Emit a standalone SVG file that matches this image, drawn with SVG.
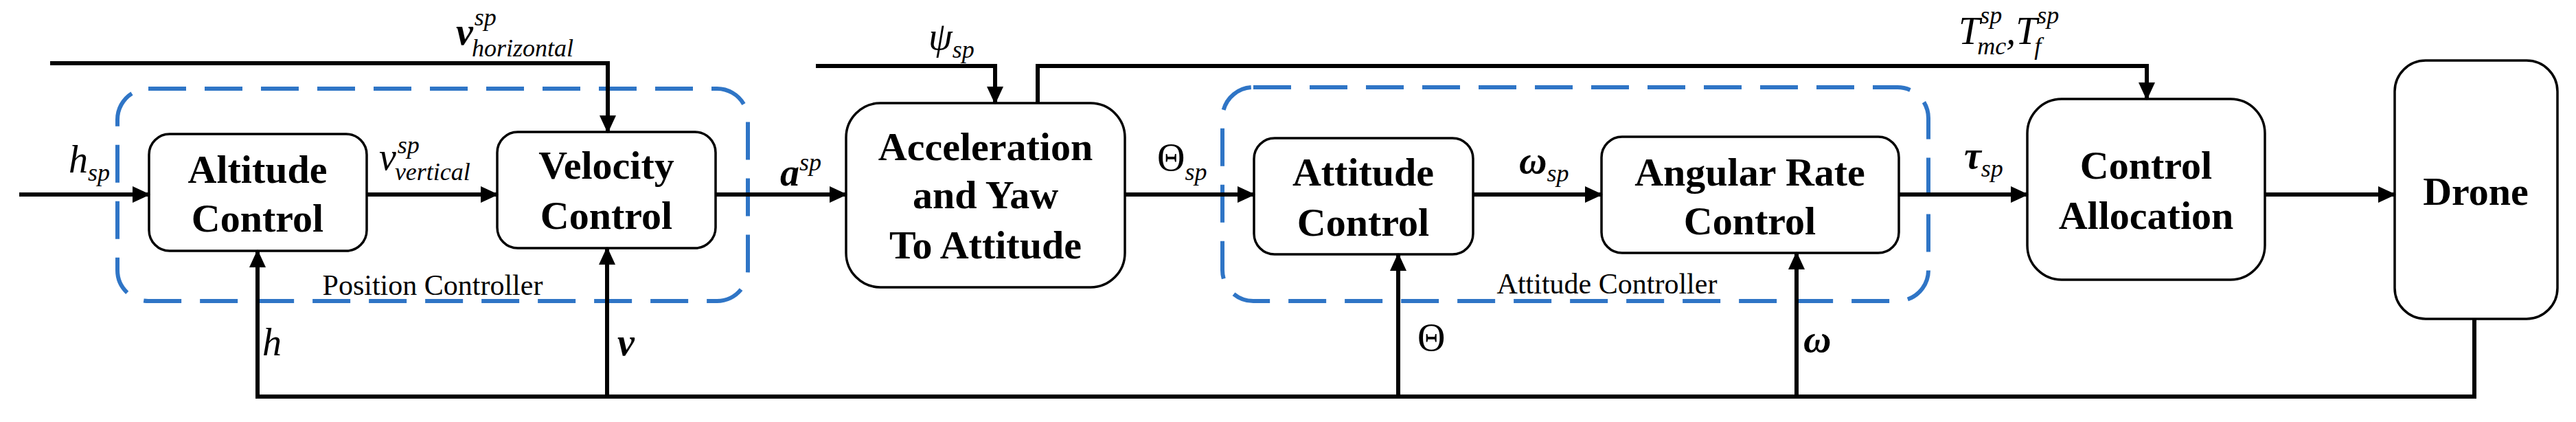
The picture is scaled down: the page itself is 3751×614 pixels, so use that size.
<svg xmlns="http://www.w3.org/2000/svg" width="3751" height="614" viewBox="0 0 3751 614">
<style>
.box{fill:#fff;stroke:#000;stroke-width:3.5}
.grp{fill:none;stroke:#2F75C6;stroke-width:6;stroke-dasharray:55 27}
.t{font-family:'Liberation Serif','DejaVu Serif',serif;font-weight:bold;font-size:58px;text-anchor:middle;fill:#000}
.g{font-family:'Liberation Serif','DejaVu Serif',serif;font-size:42px;text-anchor:middle;fill:#000}
.m{font-family:'Liberation Serif','DejaVu Serif',serif;font-style:italic;font-size:56px;fill:#000}
.s{font-size:36px}
.up{font-style:normal}
.it{font-style:italic}
.b{font-weight:bold}
.n{font-weight:normal}
.w{fill:none;stroke:#000;stroke-width:6}
</style>
<defs>
<marker id="a" markerUnits="userSpaceOnUse" markerWidth="26" markerHeight="24" refX="24" refY="12" orient="auto"><path d="M0,0L26,12L0,24z" fill="#000"/></marker>
</defs>
<rect class="grp" x="171" y="129" width="918" height="309" rx="45"/>
<rect class="grp" x="1780" y="127" width="1028" height="311" rx="45"/>
<text class="g" x="630" y="429">Position Controller</text>
<text class="g" x="2340" y="427">Attitude Controller</text>
<g id="altitude"><rect class="box" x="217" y="195" width="317" height="170" rx="30"/><text class="t" x="375" y="266">Altitude</text><text class="t" x="375" y="337">Control</text></g>
<g id="velocity"><rect class="box" x="724" y="192" width="318" height="169" rx="30"/><text class="t" x="883" y="260">Velocity</text><text class="t" x="883" y="333">Control</text></g>
<g id="accel"><rect class="box" x="1232" y="150" width="406" height="268" rx="50"/><text class="t" x="1435" y="233">Acceleration</text><text class="t" x="1435" y="303">and Yaw</text><text class="t" x="1435" y="376">To Attitude</text></g>
<g id="attitude"><rect class="box" x="1826" y="201" width="319" height="169" rx="30"/><text class="t" x="1985" y="270">Attitude</text><text class="t" x="1985" y="343">Control</text></g>
<g id="rate"><rect class="box" x="2332" y="199" width="433" height="169" rx="30"/><text class="t" x="2548" y="270">Angular Rate</text><text class="t" x="2548" y="341">Control</text></g>
<g id="alloc"><rect class="box" x="2952" y="144" width="346" height="263" rx="50"/><text class="t" x="3125" y="260">Control</text><text class="t" x="3125" y="333">Allocation</text></g>
<g id="drone"><rect class="box" x="3487" y="88" width="237" height="376" rx="45"/><text class="t" x="3605" y="298">Drone</text></g>
<g id="connectors">
<line class="w" x1="28" y1="283" x2="217" y2="283" marker-end="url(#a)"/>
<line class="w" x1="534" y1="283" x2="724" y2="283" marker-end="url(#a)"/>
<line class="w" x1="1042" y1="283" x2="1232" y2="283" marker-end="url(#a)"/>
<line class="w" x1="1638" y1="283" x2="1826" y2="283" marker-end="url(#a)"/>
<line class="w" x1="2145" y1="283" x2="2332" y2="283" marker-end="url(#a)"/>
<line class="w" x1="2765" y1="283" x2="2952" y2="283" marker-end="url(#a)"/>
<line class="w" x1="3298" y1="283" x2="3487" y2="283" marker-end="url(#a)"/>
<path class="w" d="M73,92H885V192" marker-end="url(#a)"/>
<path class="w" d="M1188,96H1449V150" marker-end="url(#a)"/>
<path class="w" d="M1511,150V96H3126V144" marker-end="url(#a)"/>
<path class="w" d="M3603,464V577H375V365" marker-end="url(#a)"/>
<line class="w" x1="884" y1="577" x2="884" y2="361" marker-end="url(#a)"/>
<line class="w" x1="2036" y1="577" x2="2036" y2="370" marker-end="url(#a)"/>
<line class="w" x1="2616" y1="577" x2="2616" y2="368" marker-end="url(#a)"/>
</g>
<g id="labels">
<text class="m" x="100" y="251">h<tspan class="s" dy="12">sp</tspan></text>
<text class="m" x="552" y="247">v<tspan class="s" dx="2" dy="-24">sp</tspan><tspan class="s" dx="-36" dy="39">vertical</tspan></text>
<text class="m b" x="664" y="65">v<tspan class="s n" dx="2" dy="-28">sp</tspan><tspan class="s n" dx="-36" dy="45">horizontal</tspan></text>
<text class="m b" x="1136" y="270">a<tspan class="s n" dy="-22">sp</tspan></text>
<text class="m" x="1352" y="72">ψ<tspan class="s" dy="12">sp</tspan></text>
<text class="m up" x="1685" y="248">Θ<tspan class="s it" dy="14">sp</tspan></text>
<text class="m b" x="2212" y="252">ω<tspan class="s n" dy="12">sp</tspan></text>
<text class="m b" x="2860" y="245">τ<tspan class="s n" dy="12">sp</tspan></text>
<text class="m" x="2852" y="64">T<tspan class="s" dy="-30">sp</tspan><tspan class="s" dx="-36" dy="45">mc</tspan><tspan dy="-15">,T</tspan><tspan class="s" dy="-30">sp</tspan><tspan class="s" dx="-36" dy="45">f</tspan></text>
<text class="m" x="382" y="517">h</text>
<text class="m b" x="899" y="517">v</text>
<text class="m up" x="2064" y="510">Θ</text>
<text class="m b" x="2626" y="512">ω</text>
</g>
</svg>
